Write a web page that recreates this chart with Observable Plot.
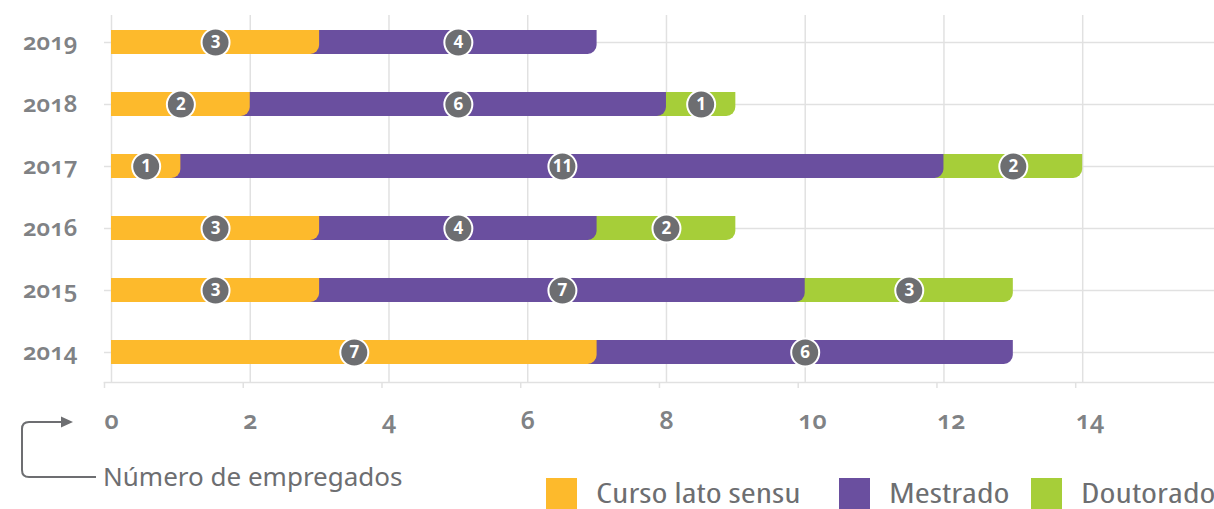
<!DOCTYPE html>
<html>
<head>
<meta charset="utf-8">
<script src="https://cdn.jsdelivr.net/npm/d3@7"></script>
<script src="https://cdn.jsdelivr.net/npm/@observablehq/plot@0.6"></script>
<style>
  html, body { margin: 0; padding: 0; background: #fff; }
  #wrap { position: relative; width: 1214px; height: 509px; overflow: hidden; }
  #chart svg { display: block; }
  #chart g[aria-label="x-axis tick label"] text,
  #chart g[aria-label="y-axis tick label"] text { font-variant-numeric: oldstyle-nums; font-feature-settings: "onum" 1; }
  .atitle { position: absolute; left: 103px; top: 463px; font-family: "Noto Sans", "Open Sans", sans-serif; font-size: 26px; color: #6d6e71; white-space: nowrap; line-height: 1; }
  .legend { position: absolute; top: 478px; left: 0; height: 31px; }
  .lg { position: absolute; top: 0; height: 31px; white-space: nowrap; }
  .sw { position: absolute; left: 0; top: 0; width: 31px; height: 31px; display: block; }
  .lt { position: absolute; left: 50px; top: 1px; font-family: "Open Sans", sans-serif; font-stretch: 87.5%; font-size: 27.5px; color: #6d6e71; line-height: 1; display: inline-block; transform: scaleX(1.32); transform-origin: 0 50%; }
  #arrow { position: absolute; left: 0; top: 0; pointer-events: none; }
</style>
</head>
<body>
<div id="wrap">
  <div id="chart"></div>
  <svg id="arrow" width="120" height="509">
    <path d="M96,477 H29 Q22,477 22,470 V429 Q22,422 29,422 H64" fill="none" stroke="#6d6e71" stroke-width="2"/>
    <polygon points="61,416.5 73,422 61,427.5" fill="#6d6e71"/>
  </svg>
  <div class="atitle">Número de empregados</div>
  <div class="legend" id="legend"></div>
</div>
<script>
const years = ["2019", "2018", "2017", "2016", "2015", "2014"];
const lato = [3, 2, 1, 3, 3, 7];
const mestrado = [4, 6, 11, 4, 7, 6];
const doutorado = [0, 1, 2, 2, 3, 0];
const xTicks = [0, 2, 4, 6, 8, 10, 12, 14];
const seriesNames = ["Curso lato sensu", "Mestrado", "Doutorado"];
const seriesColors = ["#fdba2c", "#6a4f9f", "#a6ce39"];

const rows = years.map((year, i) => ({
  year,
  lato: lato[i],
  mest: mestrado[i],
  dout: doutorado[i]
}));

const segs = [];
rows.forEach(r => {
  const vals = [r.lato, r.mest, r.dout];
  let start = 0;
  vals.forEach((v, k) => {
    if (v > 0) segs.push({ year: r.year, mid: start + v / 2, value: v, series: seriesNames[k] });
    start += v;
  });
});

const grid = "#e1e1e1";
const R = 9;

const chart = Plot.plot({
  width: 1214,
  height: 450,
  marginLeft: 111,
  marginRight: 0,
  marginTop: 15,
  marginBottom: 68,
  style: { fontFamily: "'Noto Sans', 'Open Sans', sans-serif", color: "#808285", background: "white" },
  x: { domain: [0, 15.9], label: null },
  y: { domain: years, range: [12, 382], paddingInner: 0.618, paddingOuter: 0.255, label: null },
  marks: [
    Plot.gridX({ ticks: xTicks, stroke: grid, strokeOpacity: 1, strokeWidth: 1.5 }),
    Plot.gridY({ stroke: grid, strokeOpacity: 1, strokeWidth: 1.5 }),
    Plot.frame({ anchor: "bottom", insetLeft: -7, stroke: grid, strokeWidth: 1.5, strokeOpacity: 1 }),
    Plot.axisX({ ticks: xTicks, tickSize: 6, tickPadding: 23, fontSize: 25, fontWeight: 600, textAnchor: "start", dx: -7, stroke: grid, strokeWidth: 1.5, strokeOpacity: 1, fill: "#808285", label: null }),
    Plot.axisY({ tickSize: 7, tickPadding: 27, fontSize: 24, fontWeight: 600, stroke: grid, strokeWidth: 1.5, strokeOpacity: 1, fill: "#808285", label: null }),
    Plot.barX(rows.filter(d => d.dout > 0), { x1: 0, x2: d => d.lato + d.mest + d.dout, y: "year", fill: seriesColors[2], rx2y2: R }),
    Plot.barX(rows.filter(d => d.mest > 0), { x1: 0, x2: d => d.lato + d.mest, y: "year", fill: seriesColors[1], rx2y2: R }),
    Plot.barX(rows.filter(d => d.lato > 0), { x1: 0, x2: d => d.lato, y: "year", fill: seriesColors[0], rx2y2: R }),
    Plot.dot(segs, { x: "mid", y: "year", r: 14, fill: "#6d6e71", stroke: "white", strokeWidth: 2 }),
    Plot.text(segs, { x: "mid", y: "year", text: d => String(d.value), fill: "white", fontSize: 17, fontWeight: 700, fontFamily: "'Open Sans', sans-serif" })
  ]
});
document.getElementById("chart").appendChild(chart);

const legendPos = [546, 839, 1031];
const legend = document.getElementById("legend");
seriesNames.forEach((name, k) => {
  const item = document.createElement("div");
  item.className = "lg";
  item.style.left = legendPos[k] + "px";
  const sw = document.createElement("span");
  sw.className = "sw";
  sw.style.background = seriesColors[k];
  const t = document.createElement("span");
  t.className = "lt";
  t.textContent = name;
  item.appendChild(sw);
  item.appendChild(t);
  legend.appendChild(item);
});
</script>
</body>
</html>
